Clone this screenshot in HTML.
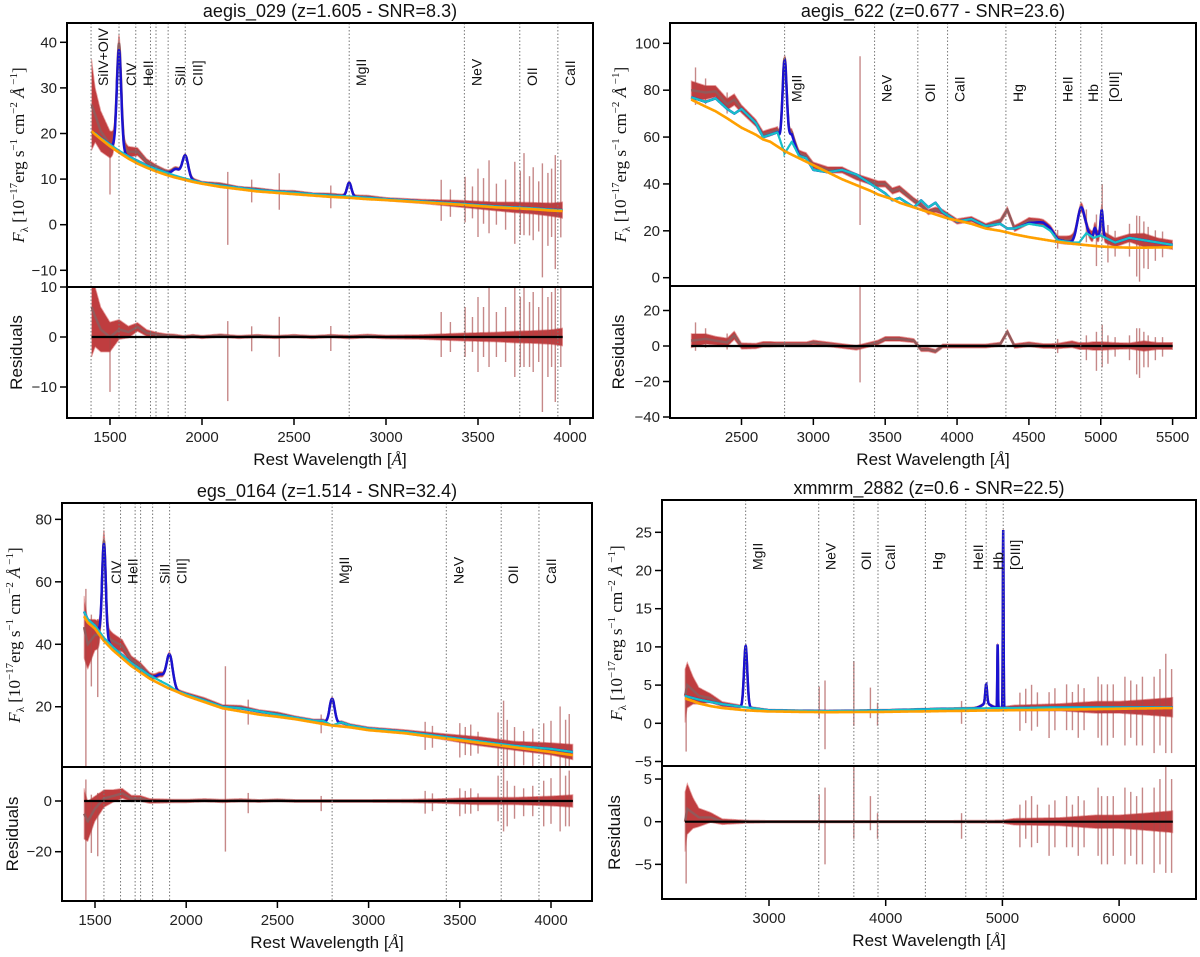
<!DOCTYPE html>
<html><head><meta charset="utf-8">
<style>
html,body{margin:0;padding:0;background:#fff;}
svg{display:block;font-family:"Liberation Sans","DejaVu Sans",sans-serif;}
</style></head>
<body>
<svg id="fig" xmlns="http://www.w3.org/2000/svg" width="1200" height="957" viewBox="0 0 1200 957"></svg>
<script>
// ---------- Panel 1: aegis_029 ----------
const tlWave  = [1400,1420,1450,1500,1550,1600,1650,1700,1750,1800,1850,1900,1950,2000,2100,2200,2300,2400,2500,2600,2700,2800,2900,3000,3200,3400,3500,3600,3700,3800,3900,3960];
const tlCont  = [20.5,19.8,18.8,17.2,15.8,14.5,13.4,12.5,11.7,11.0,10.4,9.9,9.4,9.0,8.3,7.8,7.3,7.0,6.7,6.4,6.1,5.9,5.6,5.4,4.9,4.4,4.1,3.8,3.6,3.4,3.1,3.0];
const tlCyan  = [20.3,20.0,19.0,17.6,16.2,15.0,14.0,13.0,12.2,11.5,10.8,10.2,9.7,9.2,8.6,8.1,7.6,7.3,7.0,6.7,6.4,6.2,5.9,5.6,5.1,4.6,4.3,4.0,3.8,3.6,3.3,3.2];
const tlResid = [6,4,1.5,0,1.5,1,2,0.8,0.5,0.3,0.2,0,0.2,0,0.3,0,0.2,0,0.2,0,0.2,0,0.2,0,0,0,0,0,0,0,0,0];
const tlErr   = [10,6,4.5,3,2,1.2,0.9,0.7,0.5,0.4,0.4,0.35,0.35,0.35,0.35,0.35,0.35,0.35,0.35,0.35,0.35,0.4,0.4,0.4,0.5,0.8,0.9,1,1.2,1.3,1.5,1.8];
const tlLineC = [1549,1860,1909,2800];
const tlLineA = [22,1.5,5,3];
const tlLineW = [12,20,16,12];
const tlSpikeW  = [1500,2140,2270,2420,2700,3300,3350,3430,3470,3500,3530,3560,3600,3650,3700,3730,3750,3780,3800,3830,3850,3880,3900,3920,3950];
const tlSpikeUp = [1,3,2,4,2,5,3,6,4,8,6,10,5,6,10,8,12,7,9,6,10,8,9,12,11];
const tlSpikeDn = [11,13,3,4,3,4,3,4,3,7,4,6,4,5,8,6,6,6,7,5,15,8,6,13,6];
const tlLineWave = [1397,1549,1640,1720,1750,1816,1909,2800,3426,3727,3934];
const tlLineLab  = ["SiIV+OIV","CIV","HeII","","","SiII","CIII]","MgII","NeV","OII","CaII"];
const tlXTicks = [1500,2000,2500,3000,3500,4000];
const tlYTicks = [-10,0,10,20,30,40];
const tlRTicks = [-10,0,10];

// ---------- Panel 2: aegis_622 ----------
const trWave  = [2150,2250,2320,2400,2450,2500,2600,2650,2700,2750,2800,2850,2900,2950,3000,3100,3200,3300,3400,3450,3500,3550,3600,3700,3750,3800,3850,3900,3950,4000,4100,4200,4300,4350,4400,4500,4600,4650,4700,4800,4850,4900,4950,5000,5100,5200,5300,5400,5500];
const trCont  = [76,73,71,68,66,64,61,59,58,56,54,52.5,51,49.5,48,45,42,39.5,37,35.5,34.5,33.5,32,30,29,28,27,26,25,24.5,23,21,20,19.3,18.5,17.3,16.3,15.8,15.3,14.5,14.2,13.9,13.6,13.3,13,12.8,12.8,12.9,13];
const trCyan  = [77,75,76.5,72,70,72,66,60,61,62,53,58,52,51,46,45,46,44,40,38,36,33,34,30,33,30,32,28,26,24,25,22,23,21,21,23,22,20,16,15,15,19,17,18,15,17,16,15,14];
const trResid = [3,4,3,2,6,0,0,1,1,1,1,1,1,1,2,1,0,-1,1,2,4,4,4,3,-2,-2,-3,0,0,0,0,0,1,8,0,1,0,0,0,1,0,0,0,0,0,0,0,0,0];
const trErr   = [4,3,2.5,2.5,2.5,1.8,1.6,1.6,1.6,1.4,1.4,1.4,1.4,1.4,1.4,1.4,1.4,1.4,1.4,1.4,1.4,1.4,1.4,1.2,1.2,1.2,1.2,1.2,1.2,1.2,1.2,1.2,1.2,1.4,1.4,1.4,1.4,1.4,1.6,2,2,2,2.5,2.5,2,1.8,3,2,2];
const trLineC = [2800,2830,4600,4861,4959,5007];
const trLineA = [37,4,1.5,14,4,11];
const trLineW = [14,30,60,25,8,8];
const trSpikeW  = [2180,2250,2400,3325,4700,4900,4970,5010,5050,5100,5200,5250,5270,5300,5330,5380,5430];
const trSpikeUp = [10,6,5,52,4,6,8,12,6,5,6,10,10,8,6,5,5];
const trSpikeDn = [6,5,4,20,4,8,14,12,10,6,8,16,18,12,12,8,6];
const trLineWave = [2800,3426,3727,3934,4340,4686,4861,5007];
const trLineLab  = ["MgII","NeV","OII","CaII","Hg","HeII","Hb","[OIII]"];
const trXTicks = [2500,3000,3500,4000,4500,5000,5500];
const trYTicks = [0,20,40,60,80,100];
const trRTicks = [-40,-20,0,20];

// ---------- Panel 3: egs_0164 ----------
const blWave  = [1440,1460,1500,1550,1600,1650,1700,1750,1800,1900,1950,2000,2100,2200,2300,2400,2500,2600,2700,2750,2800,2850,2900,3000,3200,3400,3600,3800,4000,4120];
const blCont  = [49,47,45,41,38,35.5,33,31,29,26,24.8,23.5,21.5,19.5,18.5,17.5,16.8,16,15,14.5,14,13.7,13.4,12.5,11.5,10,8.5,7,5.5,4.5];
const blCyan  = [50.5,48,46,42,39,36.5,34,32,30,27,25,24,22,20,19.5,18.5,17.5,16.5,15.5,15.5,14,15,14,13,12,10.5,9,7.5,6.5,5.5];
const blResid = [-5,-8,-3,1,2,3,1,1,0,0,0,0,0.3,0,0.3,0,0.3,0,0,0,0,0,0,0,0,0,0,0,0,0];
const blErr   = [10,8,5,3.5,2.5,2,1.3,1.2,1,0.8,0.7,0.7,0.7,0.7,0.7,0.6,0.6,0.6,0.6,0.6,0.6,0.6,0.6,0.6,0.7,1,1.5,1.5,2,2.5];
const blLineC = [1549,1860,1909,2800];
const blLineA = [30,2,10,8.5];
const blLineW = [10,20,17,14];
const blSpikeW  = [1450,1480,1515,2215,2340,2740,3310,3350,3500,3530,3560,3600,3710,3740,3760,3800,3850,3900,3960,4000,4050,4080,4100];
const blSpikeUp = [15,8,5,13,3,2,4,3,5,4,5,3,10,14,8,6,5,6,8,9,14,10,12];
const blSpikeDn = [45,15,20,20,5,4,5,4,6,5,5,4,8,12,10,7,6,6,10,9,12,10,10];
const blLineWave = [1549,1640,1720,1750,1816,1909,2800,3426,3727,3934];
const blLineLab  = ["CIV","HeII","","","SiII","CIII]","MgII","NeV","OII","CaII"];
const blXTicks = [1500,2000,2500,3000,3500,4000];
const blYTicks = [20,40,60,80];
const blRTicks = [-20,0];

// ---------- Panel 4: xmmrm_2882 ----------
const brWave  = [2280,2300,2350,2400,2500,2600,2800,3000,3500,4000,4500,5000,5100,5500,5800,6000,6200,6460];
const brCont  = [3.3,3.15,2.9,2.6,2.25,2.0,1.7,1.55,1.45,1.5,1.6,1.7,1.72,1.8,1.85,1.9,1.95,2.0];
const brCyan  = [3.6,3.5,3.3,3.1,2.8,2.5,2.1,1.7,1.6,1.7,1.9,2.0,2.0,2.1,2.1,2.1,2.1,2.1];
const brResid = [0,1.5,1,0.5,0.5,0,0,0,0,0,0,0,0,0,0,0,0,0];
const brErr   = [3.5,3,1.8,1.1,0.6,0.35,0.2,0.15,0.15,0.15,0.15,0.2,0.4,0.5,0.8,0.8,1,1.3];
const brLineC = [2800,4861,4861,4959,5007];
const brLineA = [8,2.5,0.6,8.3,23.3];
const brLineW = [14,8,40,3,3];
const brSpikeW  = [2290,3430,3480,3727,3869,3930,4650,5150,5200,5250,5300,5400,5450,5550,5600,5650,5700,5820,5850,5900,5950,6050,6100,6150,6200,6300,6350,6400,6450];
const brSpikeUp = [2,3.2,4,6.5,3,1,1,2,2.5,3,2,2,2.5,3,2,3,2.5,4,3,3,3,4,3.5,3,4,4,5,7,5];
const brSpikeDn = [8,1,5,2,1,2,2,3,2,3,2.5,4,3,3,3,4,3,4,5,5,4,5,4,5,5,6,5,6,6];
const brLineWave = [2800,3426,3727,3934,4340,4686,4861,5007];
const brLineLab  = ["MgII","NeV","OII","CaII","Hg","HeII","Hb","[OIII]"];
const brXTicks = [3000,4000,5000,6000];
const brYTicks = [-5,0,5,10,15,20,25];
const brRTicks = [-5,0,5];

const NS = "http://www.w3.org/2000/svg";
const fig = document.getElementById("fig");
function mk(tag, attrs, parent){
  const e = document.createElementNS(NS, tag);
  for (const k in attrs) e.setAttribute(k, attrs[k]);
  (parent || fig).appendChild(e);
  return e;
}
function interp(xs, ys, x){
  if (x <= xs[0]) return ys[0];
  for (let i=1;i<xs.length;i++){
    if (x <= xs[i]){ const t=(x-xs[i-1])/(xs[i]-xs[i-1]); return ys[i-1]+t*(ys[i]-ys[i-1]); }
  }
  return ys[ys.length-1];
}
let clipId = 0;

function panel(c){
  const id = c.id;
  const g = mk("g", {});
  
  
  const X = w => c.xp0 + (w - c.xw0) * c.xk;
  const YM = v => c.my0 - v * c.mk;
  const YR = v => c.ry0 - v * c.rk;
  const defs = mk("defs", {}, g);
  const cm = "clip" + (clipId++), cr = "clip" + (clipId++);
  const cp1 = mk("clipPath", {id: cm}, defs);
  mk("rect", {x:c.L, y:c.T, width:c.R-c.L, height:c.M-c.T}, cp1);
  const cp2 = mk("clipPath", {id: cr}, defs);
  mk("rect", {x:c.L, y:c.M, width:c.R-c.L, height:c.B-c.M}, cp2);

  const w0 = c.wave[0], w1 = c.wave[c.wave.length-1];
  const N = 2500;
  const ws = [], cont = [], cyan = [], blue = [], res = [], err = [];
  const grid = [];
  for (let i=0;i<=N;i++) grid.push(w0 + (w1-w0)*i/N);
  for (const lcv of c.lc) if (lcv > w0 && lcv < w1) grid.push(lcv);
  grid.sort((a,b)=>a-b);
  for (const w of grid){
    ws.push(w);
    cont.push(interp(c.wave, c.cont, w));
    const cy = interp(c.wave, c.cyan, w);
    cyan.push(cy);
    let b = cy;
    for (let j=0;j<c.lc.length;j++){
      const d = (w - c.lc[j]) / c.lw[j];
      b += c.la[j] * Math.exp(-0.5*d*d);
    }
    blue.push(b);
    res.push(interp(c.wave, c.resid, w));
    err.push(interp(c.wave, c.err, w));
  }
  const M = ws.length - 1;
  const pathOf = (arr, Y) => arr.map((v,i)=> (i?"L":"M") + X(ws[i]).toFixed(1) + "," + Y(v).toFixed(1)).join("");
  const bandOf = (mid, Y) => {
    let s = "";
    for (let i=0;i<=M;i++) s += (i?"L":"M") + X(ws[i]).toFixed(1) + "," + Y(mid[i]+err[i]).toFixed(1);
    for (let i=M;i>=0;i--) s += "L" + X(ws[i]).toFixed(1) + "," + Y(mid[i]-err[i]).toFixed(1);
    return s + "Z";
  };
  const data = blue.map((b,i)=> b + res[i]);

  // main plot
  const gm = mk("g", {"clip-path":"url(#"+cm+")"}, g);
  
  
  const band = mk("path", {d: bandOf(data, YM), fill:"#b8282a", "fill-opacity":"0.9", stroke:"#e8a0a0", "stroke-width":"0.8"}, gm);
  
  
  for (let j=0;j<c.sw.length;j++){
    const dv = interp(ws, data, c.sw[j]);
    const s = mk("line", {x1:X(c.sw[j]), x2:X(c.sw[j]), y1:YM(dv+c.su[j]), y2:YM(dv-c.sd[j]), stroke:"#a84848", "stroke-opacity":"0.65", "stroke-width":"1.4"}, gm);
    
    
  }
  const dl = mk("path", {d: pathOf(data, YM), fill:"none", stroke:"#93595a", "stroke-width":"2.4"}, gm);
  
  
  const bl = mk("path", {d: pathOf(blue, YM), fill:"none", stroke:"#1a12d0", "stroke-width":"2.5"}, gm);
  
  
  const cl = mk("path", {d: pathOf(cyan, YM), fill:"none", stroke:"#17bfc8", "stroke-width":"2.2"}, gm);
  
  
  const ol = mk("path", {d: pathOf(cont, YM), fill:"none", stroke:"#ffa000", "stroke-width":"2.6"}, gm);
  
  

  // residual plot
  const gr = mk("g", {"clip-path":"url(#"+cr+")"}, g);
  
  
  const rb = mk("path", {d: bandOf(res, YR), fill:"#b8282a", "fill-opacity":"0.9", stroke:"#e8a0a0", "stroke-width":"0.8"}, gr);
  
  
  for (let j=0;j<c.sw.length;j++){
    const rv = interp(ws, res, c.sw[j]);
    const s = mk("line", {x1:X(c.sw[j]), x2:X(c.sw[j]), y1:YR(rv+c.su[j]), y2:YR(rv-c.sd[j]), stroke:"#a84848", "stroke-opacity":"0.65", "stroke-width":"1.4"}, gr);
    
    
  }
  const rl = mk("path", {d: pathOf(res, YR), fill:"none", stroke:"#93595a", "stroke-width":"2.4"}, gr);
  
  
  const zl = mk("line", {x1:X(w0), x2:X(w1), y1:YR(0), y2:YR(0), stroke:"#000", "stroke-width":"2.2"}, gr);
  
  

  // emission line markers
  for (let j=0;j<c.lines.length;j++){
    const x = X(c.lines[j]);
    const ln = mk("line", {x1:x, x2:x, y1:c.T, y2:c.B, stroke:"#777", "stroke-width":"1", "stroke-dasharray":"1.5,2"}, g);
    
    
    if (c.labs[j]){
      const t = mk("text", {x:x+17, y:c.labY, transform:"rotate(-90 "+(x+17)+" "+c.labY+")", "font-size":"14", fill:"#111"}, g);
      t.textContent = c.labs[j];
      
      
    }
  }

  // frames
  const f1 = mk("rect", {x:c.L, y:c.T, width:c.R-c.L, height:c.M-c.T, fill:"none", stroke:"#000", "stroke-width":"2"}, g);
  
  
  const f2 = mk("rect", {x:c.L, y:c.M, width:c.R-c.L, height:c.B-c.M, fill:"none", stroke:"#000", "stroke-width":"2"}, g);
  
  

  // ticks
  for (const v of c.xt){
    const x = X(v);
    mk("line", {x1:x, x2:x, y1:c.B, y2:c.B+7, stroke:"#000", "stroke-width":"1.5"}, g);
    const t = mk("text", {x:x, y:c.B+24, "text-anchor":"middle", "font-size":"15", fill:"#222"}, g);
    t.textContent = v;
    
    
  }
  for (const v of c.yt){
    const y = YM(v);
    mk("line", {x1:c.L-7, x2:c.L, y1:y, y2:y, stroke:"#000", "stroke-width":"1.5"}, g);
    const t = mk("text", {x:c.L-10, y:y+5, "text-anchor":"end", "font-size":"15", fill:"#222"}, g);
    t.textContent = String(v).replace("-", "\u2212");
    
    
  }
  for (const v of c.rt){
    const y = YR(v);
    mk("line", {x1:c.L-7, x2:c.L, y1:y, y2:y, stroke:"#000", "stroke-width":"1.5"}, g);
    const t = mk("text", {x:c.L-10, y:y+5, "text-anchor":"end", "font-size":"15", fill:"#222"}, g);
    t.textContent = String(v).replace("-", "\u2212");
    
    
  }

  // titles & axis labels
  const ti = mk("text", {x:(c.L+c.R)/2, y:c.T-6, "text-anchor":"middle", "font-size":"18", fill:"#111"}, g);
  ti.textContent = c.title;
  
  
  const xl = mk("text", {x:(c.L+c.R)/2, y:c.B+47, "text-anchor":"middle", "font-size":"17", fill:"#111"}, g);
  xl.textContent = "Rest Wavelength [";
  const ang = mk("tspan", {"font-style":"italic", "font-family":"Liberation Serif, serif"}, xl);
  ang.textContent = "Å";
  const cb = mk("tspan", {}, xl);
  cb.textContent = "]";
  
  
  const ymid = (c.T + c.M)/2, yx = c.ylx;
  const yl = mk("text", {x:yx, y:ymid, transform:"rotate(-90 "+yx+" "+ymid+")", "text-anchor":"middle", "font-size":"17", "font-family":"Liberation Serif, serif", fill:"#111"}, g);
  yl.innerHTML = '<tspan font-style="italic">F</tspan><tspan font-size="11" dy="4">λ</tspan><tspan dy="-4"> [10</tspan><tspan font-size="11" dy="-7">−17</tspan><tspan dy="7">erg s</tspan><tspan font-size="11" dy="-7">−1</tspan><tspan dy="7"> cm</tspan><tspan font-size="11" dy="-7">−2</tspan><tspan dy="7"> <tspan font-style="italic">Å</tspan></tspan><tspan font-size="11" dy="-7"> −1</tspan><tspan dy="7">]</tspan>';
  
  
  const rm = (c.M + c.B)/2, rx = c.ylx - 2;
  const rlab = mk("text", {x:rx, y:rm, transform:"rotate(-90 "+rx+" "+rm+")", "text-anchor":"middle", "font-size":"17", fill:"#111"}, g);
  rlab.textContent = "Residuals";
  
  
}

panel({id:"aegis-029", title:"aegis_029 (z=1.605 - SNR=8.3)", L:67, R:593, T:23, M:287, B:418,
  xp0:110, xw0:1500, xk:0.184, my0:224.7, mk:4.56, ry0:337, rk:5.0, labY:86, ylx:24,
  wave:tlWave, cont:tlCont, cyan:tlCyan, resid:tlResid, err:tlErr, lc:tlLineC, la:tlLineA, lw:tlLineW,
  sw:tlSpikeW, su:tlSpikeUp, sd:tlSpikeDn, lines:tlLineWave, labs:tlLineLab, xt:tlXTicks, yt:tlYTicks, rt:tlRTicks});
panel({id:"aegis-622", title:"aegis_622 (z=0.677 - SNR=23.6)", L:670, R:1196, T:23, M:286, B:418,
  xp0:741.5, xw0:2500, xk:0.1437, my0:277.7, mk:2.344, ry0:346, rk:1.775, labY:102, ylx:626,
  wave:trWave, cont:trCont, cyan:trCyan, resid:trResid, err:trErr, lc:trLineC, la:trLineA, lw:trLineW,
  sw:trSpikeW, su:trSpikeUp, sd:trSpikeDn, lines:trLineWave, labs:trLineLab, xt:trXTicks, yt:trYTicks, rt:trRTicks});
panel({id:"egs-0164", title:"egs_0164 (z=1.514 - SNR=32.4)", L:62, R:592, T:503, M:767, B:901,
  xp0:95, xw0:1500, xk:0.1824, my0:769.2, mk:3.123, ry0:801, rk:2.535, labY:584, ylx:20,
  wave:blWave, cont:blCont, cyan:blCyan, resid:blResid, err:blErr, lc:blLineC, la:blLineA, lw:blLineW,
  sw:blSpikeW, su:blSpikeUp, sd:blSpikeDn, lines:blLineWave, labs:blLineLab, xt:blXTicks, yt:blYTicks, rt:blRTicks});
panel({id:"xmmrm-2882", title:"xmmrm_2882 (z=0.6 - SNR=22.5)", L:662, R:1196, T:500, M:766, B:899,
  xp0:769, xw0:3000, xk:0.1167, my0:723.3, mk:7.64, ry0:821.7, rk:8.53, labY:570, ylx:622,
  wave:brWave, cont:brCont, cyan:brCyan, resid:brResid, err:brErr, lc:brLineC, la:brLineA, lw:brLineW,
  sw:brSpikeW, su:brSpikeUp, sd:brSpikeDn, lines:brLineWave, labs:brLineLab, xt:brXTicks, yt:brYTicks, rt:brRTicks});
</script>
</body></html>
